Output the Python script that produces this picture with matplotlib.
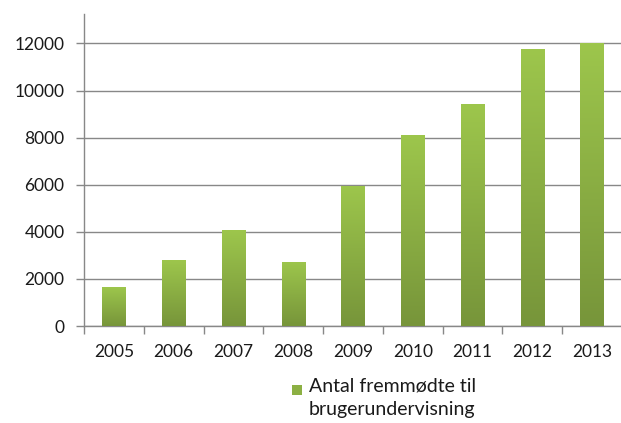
import matplotlib
matplotlib.use("Agg")
import matplotlib.pyplot as plt
import numpy as np
from matplotlib.patches import Rectangle
from matplotlib.colors import LinearSegmentedColormap

years = ["2005", "2006", "2007", "2008", "2009", "2010", "2011", "2012", "2013"]
values = [1650, 2800, 4070, 2730, 5960, 8110, 9420, 11750, 12000]
yticks = [0, 2000, 4000, 6000, 8000, 10000, 12000]
legend_label = "Antal fremmødte til\nbrugerundervisning"

W, H = 621, 423
fig = plt.figure(figsize=(W / 100, H / 100), dpi=100)
plt.rcParams['font.family'] = ['Lato', 'DejaVu Sans']

left, right, top, bottom = 84, 622, 14, 326
ax = fig.add_axes([left / W, (H - bottom) / H, (right - left) / W, (bottom - top) / H])

x = np.arange(len(years))
bars = ax.bar(x, values, width=0.39, color="#8cb043", zorder=3)

cmap = LinearSegmentedColormap.from_list("g", ["#77953a", "#9dc64c"])
grad = np.linspace(0, 1, 256).reshape(-1, 1)
for b in bars:
    bx, by = b.get_x(), b.get_y()
    bw, bh = b.get_width(), b.get_height()
    im = ax.imshow(grad, cmap=cmap, origin="lower", aspect="auto",
                   extent=[bx, bx + bw, by, by + bh], zorder=4)
    im.set_clip_path(b)
    b.set_facecolor("none")
    b.set_edgecolor("none")

ax.set_xlim(-0.5, len(years) - 0.5)
ax.set_ylim(0, 13250)
ax.set_yticks(yticks)
ax.set_yticklabels([str(v) for v in yticks])
ax.set_xticks(x)
ax.set_xticklabels(years)
ax.set_xticks(np.arange(-0.5, len(years) + 0.5, 1), minor=True)
ax.tick_params(axis="x", which="major", length=0, pad=13)
ax.tick_params(axis="x", which="minor", length=6, color="#888888", width=1)
ax.tick_params(axis="y", length=6, color="#888888", width=1, pad=8)
ax.tick_params(labelsize=12.5, labelcolor="#1a1a1a")

ax.grid(axis="y", color="#888888", linewidth=1, zorder=1)
for s in ["top", "right"]:
    ax.spines[s].set_visible(False)
for s in ["left", "bottom"]:
    ax.spines[s].set_color("#888888")
    ax.spines[s].set_linewidth(1)

# legend
fig.patches.append(Rectangle((292 / W, (H - 395) / H), 10 / W, 10 / H,
                             transform=fig.transFigure, facecolor="#8cb043",
                             edgecolor="none"))
fig.text(309 / W, (H - 377) / H, legend_label, ha="left", va="top",
         fontsize=14, color="#1a1a1a", linespacing=1.5)

fig.savefig("out.png", dpi=100)
